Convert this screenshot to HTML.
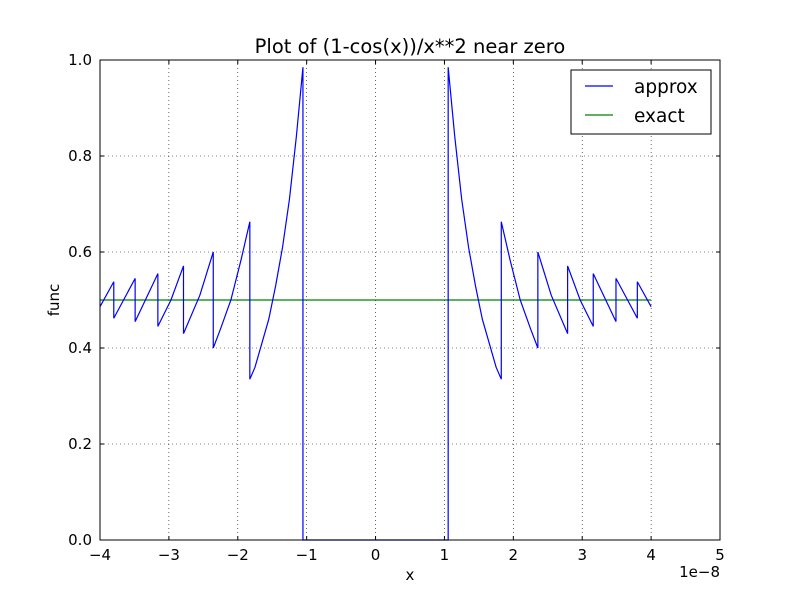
<!DOCTYPE html>
<html><head><meta charset="utf-8"><style>
body{margin:0;background:#fff}
svg{display:block;font-family:"DejaVu Sans","Liberation Sans",sans-serif}
</style></head><body>
<svg id="chart" width="800" height="600">
<rect width="800" height="600" fill="#fff"/>
</svg>
<script>
const approxX=[-4.0,-3.80,-3.80,-3.49,-3.49,-3.16,-3.16,-2.97,-2.788,-2.788,-2.55,-2.356,-2.356,-2.25,-2.1,-1.95,-1.825,-1.825,-1.75,-1.65,-1.55,-1.45,-1.35,-1.25,-1.15,-1.054,-1.054,1.054,1.054,1.15,1.25,1.35,1.45,1.55,1.65,1.75,1.825,1.825,1.95,2.1,2.25,2.356,2.356,2.55,2.788,2.788,2.97,3.16,3.16,3.49,3.49,3.80,3.80,4.0];
const approxY=[0.486,0.538,0.462,0.545,0.455,0.555,0.445,0.50,0.571,0.43,0.51,0.60,0.40,0.44,0.50,0.585,0.663,0.335,0.36,0.41,0.46,0.53,0.61,0.71,0.84,0.985,0,0,0.985,0.84,0.71,0.61,0.53,0.46,0.41,0.36,0.335,0.663,0.585,0.50,0.44,0.40,0.60,0.51,0.43,0.571,0.50,0.445,0.555,0.455,0.545,0.462,0.538,0.486];
const exactX=[-4.0,4.0];
const exactY=[0.5,0.5];
const xTicks=[-4,-3,-2,-1,0,1,2,3,4,5];
const xTickLabels=["\u22124","\u22123","\u22122","\u22121","0","1","2","3","4","5"];
const yTicks=[0,0.2,0.4,0.6,0.8,1.0];
const yTickLabels=["0.0","0.2","0.4","0.6","0.8","1.0"];

const L=100,R=720,T=60,B=540,xmin=-4,xmax=5;
const sx=v=>L+(v-xmin)/(xmax-xmin)*(R-L);
const sy=v=>B-v*(B-T);
const svg=document.getElementById('chart');
const NS='http://www.w3.org/2000/svg';
function mk(tag,attrs,parent){const e=document.createElementNS(NS,tag);for(const k in attrs)e.setAttribute(k,attrs[k]);(parent||svg).appendChild(e);return e;}

const grid=mk('g',{});


xTicks.forEach((t,i)=>{
  const x=sx(t);
  mk('line',{x1:x,x2:x,y1:T,y2:B,stroke:'#000','stroke-width':0.6,'stroke-dasharray':'1,3'},grid);
  mk('line',{x1:x,x2:x,y1:B,y2:B-4,stroke:'#000'},grid);
  mk('line',{x1:x,x2:x,y1:T,y2:T+4,stroke:'#000'},grid);
  const tl=mk('text',{x:x,y:B+20,'font-size':15,'text-anchor':'middle'});
  tl.textContent=xTickLabels[i];
  
  
});
yTicks.forEach((t,i)=>{
  const y=sy(t);
  mk('line',{x1:L,x2:R,y1:y,y2:y,stroke:'#000','stroke-width':0.6,'stroke-dasharray':'1,3'},grid);
  mk('line',{x1:L,x2:L+4,y1:y,y2:y,stroke:'#000'},grid);
  mk('line',{x1:R,x2:R-4,y1:y,y2:y,stroke:'#000'},grid);
  const tl=mk('text',{x:L-8,y:y+5,'font-size':15,'text-anchor':'end'});
  tl.textContent=yTickLabels[i];
  
  
});

const ex=mk('polyline',{points:exactX.map((v,i)=>sx(v)+','+sy(exactY[i])).join(' '),fill:'none',stroke:'#008000','stroke-width':1.2});


const ap=mk('polyline',{points:approxX.map((v,i)=>sx(v)+','+sy(approxY[i])).join(' '),fill:'none',stroke:'#0000ff','stroke-width':1.2});



const frame=mk('rect',{x:L,y:T,width:R-L,height:B-T,fill:'none',stroke:'#000','stroke-width':1});



const title=mk('text',{x:410,y:53,'font-size':19.5,'text-anchor':'middle'});
title.textContent='Plot of (1-cos(x))/x**2 near zero';


const xl=mk('text',{x:410,y:580,'font-size':15,'text-anchor':'middle'});
xl.textContent='x';


const yl=mk('text',{x:59,y:300,'font-size':15,'text-anchor':'middle',transform:'rotate(-90 59 300)'});
yl.textContent='func';


const off=mk('text',{x:720,y:577,'font-size':15,'text-anchor':'end'});
off.textContent='1e\u22128';



const lg=mk('g',{});


mk('rect',{x:571,y:70,width:140,height:64,fill:'#fff',stroke:'#000','stroke-width':1},lg);
[['approx','#0000ff',86],['exact','#008000',115]].forEach(([n,c,y])=>{
  const e=mk('g',{},lg);
  
  
  mk('line',{x1:585,x2:613,y1:y,y2:y,stroke:c,'stroke-width':1.2},e);
  const t=mk('text',{x:634,y:y+7,'font-size':18.5},e);
  t.textContent=n;
});
</script>
</body></html>
